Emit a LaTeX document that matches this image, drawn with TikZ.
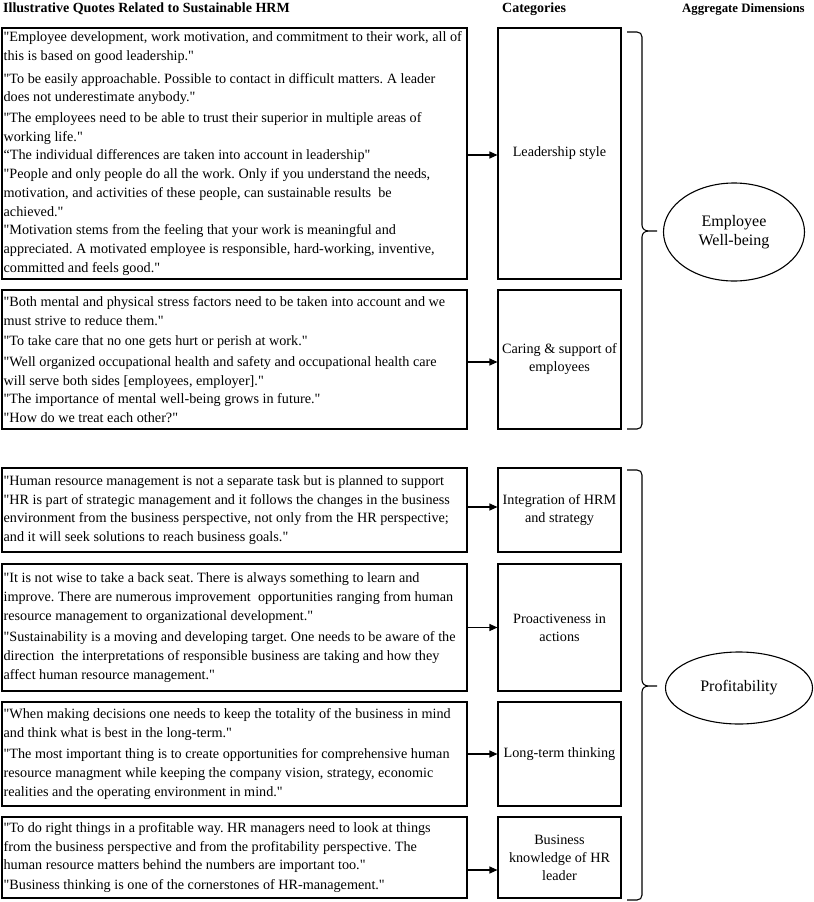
\documentclass[tikz,border=0pt]{standalone}
\usepackage{fontspec}
\setmainfont{Liberation Serif}[Ligatures=TeXOff]
\usetikzlibrary{arrows.meta,shapes.geometric}
\tikzset{
  qbox/.style={draw, line width=1.1bp, rectangle, minimum width=465bp, inner sep=0pt},
  qtext/.style={anchor=west, inner sep=0pt, align=left, font=\frenchspacing\fontsize{14.2bp}{18.7bp}\selectfont},
  cbox/.style={draw, line width=1.1bp, rectangle, minimum width=123bp, inner sep=0pt, align=center, font=\fontsize{14.2bp}{18bp}\selectfont},
  dim/.style={ellipse, draw, line width=1.1bp, inner sep=0pt, align=center, font=\fontsize{16bp}{19.5bp}\selectfont},
  arr/.style={line width=1.1bp, -{Triangle[length=8bp,width=7bp]}},
  brc/.style={line width=1.1bp},
  hdr/.style={anchor=base west, inner sep=0pt, font=\bfseries\fontsize{14bp}{16bp}\selectfont}
}
\begin{document}
\frenchspacing
\begin{tikzpicture}[x=1bp,y=-1bp]
\useasboundingbox (0,0) rectangle (814,902);

% headers
\node[hdr] (h1) at (3,12) {Illustrative Quotes Related to Sustainable HRM};
\node[hdr] (h2) at (502,12) {Categories};
\node[hdr, font=\bfseries\fontsize{12.8bp}{15bp}\selectfont] (h3) at (682,12) {Aggregate Dimensions};

% quote boxes
\node[qbox, minimum height=251bp] (q1) at (234.5,153.5) {};
\node[qbox, minimum height=139bp] (q2) at (234.5,359.5) {};
\node[qbox, minimum height=84bp]  (q3) at (234.5,510) {};
\node[qbox, minimum height=127bp] (q4) at (234.5,627.5) {};
\node[qbox, minimum height=104bp] (q5) at (234.5,754) {};
\node[qbox, minimum height=81bp]  (q6) at (234.5,857.5) {};

\node[qtext] (t1) at ([xshift=2bp]q1.west) {"Employee development, work motivation, and commitment to their work, all of\\
this is based on good leadership."\\[4bp]
"To be easily approachable. Possible to contact in difficult matters. A leader\\
does not underestimate anybody."\\[2bp]
"The employees need to be able to trust their superior in multiple areas of\\
working life."\\
“The individual differences are taken into account in leadership"\\
"People and only people do all the work. Only if you understand the needs,\\
motivation, and activities of these people, can sustainable results\ \ be\\
achieved."\\
"Motivation stems from the feeling that your work is meaningful and\\
appreciated. A motivated employee is responsible, hard-working, inventive,\\
committed and feels good."};

\node[qtext] (t2) at ([xshift=2bp]q2.west) {"Both mental and physical stress factors need to be taken into account and we\\
must strive to reduce them."\\[2bp]
"To take care that no one gets hurt or perish at work."\\[2bp]
"Well organized occupational health and safety and occupational health care\\
will serve both sides [employees, employer]."\\
"The importance of mental well-being grows in future."\\
"How do we treat each other?"};

\node[qtext] (t3) at ([xshift=2bp]q3.west) {"Human resource management is not a separate task but is planned to support\\
"HR is part of strategic management and it follows the changes in the business\\
environment from the business perspective, not only from the HR perspective;\\
and it will seek solutions to reach business goals."};

\node[qtext] (t4) at ([xshift=2bp]q4.west) {"It is not wise to take a back seat. There is always something to learn and\\
improve. There are numerous improvement\ \ opportunities ranging from human\\
resource management to organizational development."\\[3bp]
"Sustainability is a moving and developing target. One needs to be aware of the\\
direction\ \ the interpretations of responsible business are taking and how they\\
affect human resource management."};

\node[qtext] (t5) at ([xshift=2bp]q5.west) {"When making decisions one needs to keep the totality of the business in mind\\
and think what is best in the long-term."\\[3bp]
"The most important thing is to create opportunities for comprehensive human\\
resource managment while keeping the company vision, strategy, economic\\
realities and the operating environment in mind."};

\node[qtext] (t6) at ([xshift=2bp]q6.west) {"To do right things in a profitable way. HR managers need to look at things\\
from the business perspective and from the profitability perspective. The\\
human resource matters behind the numbers are important too."\\[1bp]
"Business thinking is one of the cornerstones of HR-management."};

% category boxes
\node[cbox, minimum height=251bp] (c1) at (559.5,153.5) {Leadership style};
\node[cbox, minimum height=139bp] (c2) at (559.5,359.5) {Caring \& support of\\employees};
\node[cbox, minimum height=84bp]  (c3) at (559.5,510) {Integration of HRM\\and strategy};
\node[cbox, minimum height=127bp] (c4) at (559.5,627.5) {Proactiveness in\\actions};
\node[cbox, minimum height=104bp] (c5) at (559.5,754) {Long-term thinking};
\node[cbox, minimum height=81bp]  (c6) at (559.5,857.5) {Business\\knowledge of HR\\leader};

% arrows
\draw[arr] ([yshift=-1.5bp]q1.east) -- ([yshift=-1.5bp]c1.west);
\draw[arr] ([yshift=-2.5bp]q2.east) -- ([yshift=-2.5bp]c2.west);
\draw[arr] ([yshift=3bp]q3.east) -- ([yshift=3bp]c3.west);
\draw[arr] (q4.east) -- (c4.west);
\draw[arr] (q5.east) -- (c5.west);
\draw[arr] ([yshift=-12.5bp]q6.east) -- ([yshift=-12.5bp]c6.west);

% braces
\draw[brc] (627,32) -- (637,32) .. controls (640,32) and (642,34) .. (642,37)
  -- (642,225) .. controls (642,229) and (645,231) .. (649,231) -- (657,231)
  (649,231) .. controls (645,231) and (642,233) .. (642,237)
  -- (642,424) .. controls (642,427) and (640,429) .. (637,429) -- (627,429);
\draw[brc] (627,470) -- (637,470) .. controls (640,470) and (642,472) .. (642,475)
  -- (642,680) .. controls (642,684) and (645,686) .. (649,686) -- (657,686)
  (649,686) .. controls (645,686) and (642,688) .. (642,692)
  -- (642,895) .. controls (642,898) and (640,900) .. (637,900) -- (627,900);

% aggregate dimensions
\node[dim, minimum width=141bp, minimum height=98bp] (d1) at (734,232) {Employee\\Well-being};
\node[dim, minimum width=147bp, minimum height=72bp] (d2) at (739,688) {Profitability};
\end{tikzpicture}
\end{document}
